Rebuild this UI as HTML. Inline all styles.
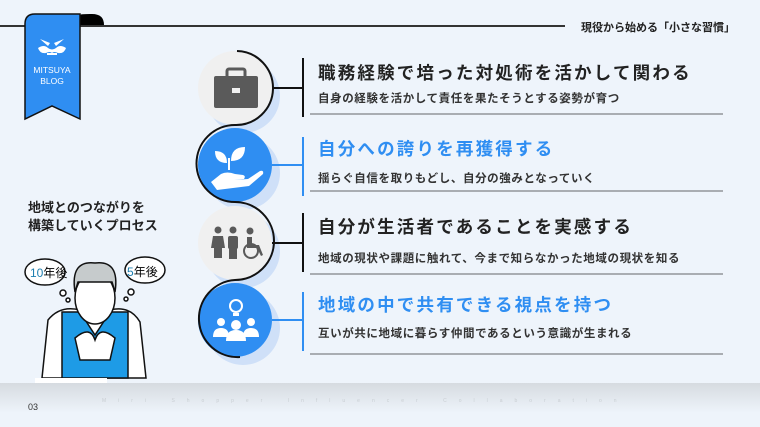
<!DOCTYPE html>
<html><head><meta charset="utf-8"><style>
*{margin:0;padding:0;box-sizing:border-box}
body{width:760px;height:427px;overflow:hidden;background:#eef4fb;position:relative;font-family:"Liberation Sans","Noto Sans CJK JP",sans-serif;color:#222}
.a{position:absolute;white-space:nowrap}
.t{font-size:17.5px;font-weight:bold;letter-spacing:2.2px;line-height:1}
.s{font-size:11.5px;font-weight:bold;letter-spacing:0.6px;line-height:1;color:#333}
.blue{color:#2f8ef2}
.ln{position:absolute;height:2px;background:#a9adb2;left:310px;width:413px}
</style></head><body>
<div class="a" style="left:0;top:25px;width:565px;height:2px;background:#333"></div>
<div class="a" style="left:581px;top:19px;font-size:11px;font-weight:bold">現役から始める「小さな習慣」</div>

<svg class="a" style="left:0;top:0" width="760" height="427">
 <path d="M80,25 L80,15 Q80,14 90,14 L92,14 Q104,14 104,25 Z" fill="#000"/>
 <path d="M25,119 L25,24 Q25,14 35,14 L80,14 L80,119 L52,106 Z" fill="#2f8ef2" stroke="#111" stroke-width="1.5"/>
 <g fill="#fff">
  <path d="M40,39 l10,4 -2,3z M64,39 l-10,4 2,3z"/>
  <path d="M38,48 q6,-4 10,0 q4,3 8,0 q4,-4 10,0 q-2,6 -8,5 q-4,-2 -6,0 q-2,-2 -6,0 q-6,1 -8,-5z"/>
  <rect x="47" y="53" width="10" height="2"/>
 </g>
 <text x="52" y="73" fill="#fff" font-size="8.5" text-anchor="middle" font-family="Liberation Sans">MITSUYA</text>
 <text x="52" y="84" fill="#fff" font-size="8.5" text-anchor="middle" font-family="Liberation Sans">BLOG</text>

 <g fill="#cfe0f8">
  <circle cx="243" cy="96" r="37"/><circle cx="243" cy="173" r="37"/><circle cx="243" cy="251" r="37"/><circle cx="243" cy="328" r="37"/>
 </g>
 <circle cx="235" cy="88" r="37" fill="#f0f0f0"/>
 <circle cx="235" cy="165" r="37" fill="#2f8ef2"/>
 <circle cx="235" cy="243" r="37" fill="#f0f0f0"/>
 <circle cx="235" cy="320" r="37" fill="#2f8ef2"/>
 <g fill="none" stroke="#111" stroke-width="2">
  <path d="M237,51 A37,37 0 0 1 235,125 A37,37 0 0 0 235,202 A37,37 0 0 1 235,280 A37,37 0 0 0 240,357"/>
  <line x1="272" y1="88" x2="303" y2="88"/><line x1="303" y1="58" x2="303" y2="117"/>
  <line x1="272" y1="243" x2="303" y2="243"/><line x1="303" y1="213" x2="303" y2="272"/>
 </g>
 <g stroke="#2f8ef2" stroke-width="2">
  <line x1="272" y1="165" x2="303" y2="165"/><line x1="303" y1="137" x2="303" y2="196"/>
  <line x1="272" y1="320" x2="303" y2="320"/><line x1="303" y1="292" x2="303" y2="351"/>
 </g>
 <g fill="#5a5a5a"><rect x="214" y="76" width="44" height="32" rx="2"/><rect x="227" y="69" width="18" height="9" rx="2" fill="none" stroke="#5a5a5a" stroke-width="3"/></g>
 <rect x="232" y="88" width="8" height="5" fill="#f0f0f0"/>
 <g fill="#fff">
  <path d="M227,163 q-12,0 -12,-12 q12,0 12,12z M231,161 q0,-14 14,-14 q0,14 -14,14z"/><rect x="228" y="158" width="2" height="12"/>
  <path d="M211,182 l10,-8 q6,-3 14,0 l8,1 q3,1 1,4 l-10,1 14,-1 12,-8 q4,-1 3,3 l-14,12 -24,3 -8,1z"/>
 </g>
 <g fill="#5a5a5a">
  <circle cx="218" cy="230" r="3.5"/><path d="M213,236 h10 l2,12 h-3 v10 h-8 v-10 h-3z"/>
  <circle cx="233" cy="230" r="3.5"/><rect x="228" y="236" width="10" height="13" rx="2"/><rect x="229" y="248" width="8" height="11"/>
  <circle cx="250" cy="231" r="3.5"/><path d="M247,237 h5 v8 h7 l4,10 -2,1 -4,-8 h-10z"/>
  <circle cx="251" cy="251" r="7" fill="none" stroke="#5a5a5a" stroke-width="2"/>
 </g>
 <g fill="#fff">
  <circle cx="236" cy="306" r="6" fill="none" stroke="#fff" stroke-width="2"/><rect x="233" y="313" width="6" height="3"/>
  <circle cx="221" cy="322" r="4"/><circle cx="251" cy="322" r="4"/><circle cx="236" cy="325" r="5"/>
  <path d="M213,337 q0,-9 8,-9 q8,0 8,9z M243,337 q0,-9 8,-9 q8,0 8,9z M226,341 q0,-11 10,-11 q10,0 10,11z"/>
 </g>

 <g stroke="#111" stroke-width="1.5">
  <ellipse cx="45" cy="272" rx="20" ry="13" fill="#fff"/>
  <ellipse cx="145" cy="270" rx="20" ry="13" fill="#fff"/>
  <circle cx="63" cy="293" r="3" fill="#fff"/><circle cx="68" cy="300" r="2" fill="#fff"/>
  <circle cx="131" cy="292" r="3" fill="#fff"/><circle cx="126" cy="299" r="2" fill="#fff"/>
  <path d="M42,378 L48,320 Q60,305 80,310 L110,310 Q130,305 140,322 L146,378 Z" fill="#fff"/>
  <path d="M62,312 L80,312 L95,335 L110,312 L128,312 L128,378 L62,378 Z" fill="#1e9be6"/>
  <ellipse cx="95" cy="298" rx="20" ry="26" fill="#fff"/>
  <path d="M75,292 Q70,260 95,263 Q120,260 115,292 L112,282 L78,282 Z" fill="#c6cbcc"/>
  <path d="M75,338 Q90,325 95,340 Q100,325 115,338 L110,360 L80,360 Z" fill="#fff"/>
 </g>
 <rect x="35" y="378" width="72" height="6" fill="#fff"/>
 <text x="30" y="277" font-size="12" font-family="Liberation Sans,Noto Sans CJK JP"><tspan fill="#1e7fb0">10</tspan>年後</text>
 <text x="127" y="276" font-size="12" font-family="Liberation Sans,Noto Sans CJK JP"><tspan fill="#1e7fb0">5</tspan>年後</text>
 <defs><linearGradient id="g" x1="0" y1="0" x2="0" y2="1"><stop offset="0" stop-color="#d6dbe0"/><stop offset="1" stop-color="#eef4fb"/></linearGradient></defs>
 <rect x="0" y="383" width="760" height="30" fill="url(#g)"/>
</svg>

<div class="a" style="left:28px;top:199px;font-size:13px;font-weight:bold;line-height:18px">地域とのつながりを<br>構築していくプロセス</div>
<div class="a" style="left:28px;top:402px;font-size:9px;color:#333">03</div>
<div class="a" style="left:102px;top:398px;font-size:5px;color:#c9ced3;letter-spacing:12px">Miri Shopper Influencer Collaboration</div>

<div class="a t" style="left:318px;top:65px">職務経験で培った対処術を活かして関わる</div>
<div class="a s" style="left:318px;top:94px">自身の経験を活かして責任を果たそうとする姿勢が育つ</div>
<div class="ln" style="top:113px"></div>
<div class="a t blue" style="left:318px;top:141px">自分への誇りを再獲得する</div>
<div class="a s" style="left:318px;top:174px">揺らぐ自信を取りもどし、自分の強みとなっていく</div>
<div class="ln" style="top:190px"></div>
<div class="a t" style="left:318px;top:219px">自分が生活者であることを実感する</div>
<div class="a s" style="left:318px;top:254px">地域の現状や課題に触れて、今まで知らなかった地域の現状を知る</div>
<div class="ln" style="top:273px"></div>
<div class="a t blue" style="left:318px;top:297px">地域の中で共有できる視点を持つ</div>
<div class="a s" style="left:318px;top:329px">互いが共に地域に暮らす仲間であるという意識が生まれる</div>
<div class="ln" style="top:353px"></div>
</body></html>
